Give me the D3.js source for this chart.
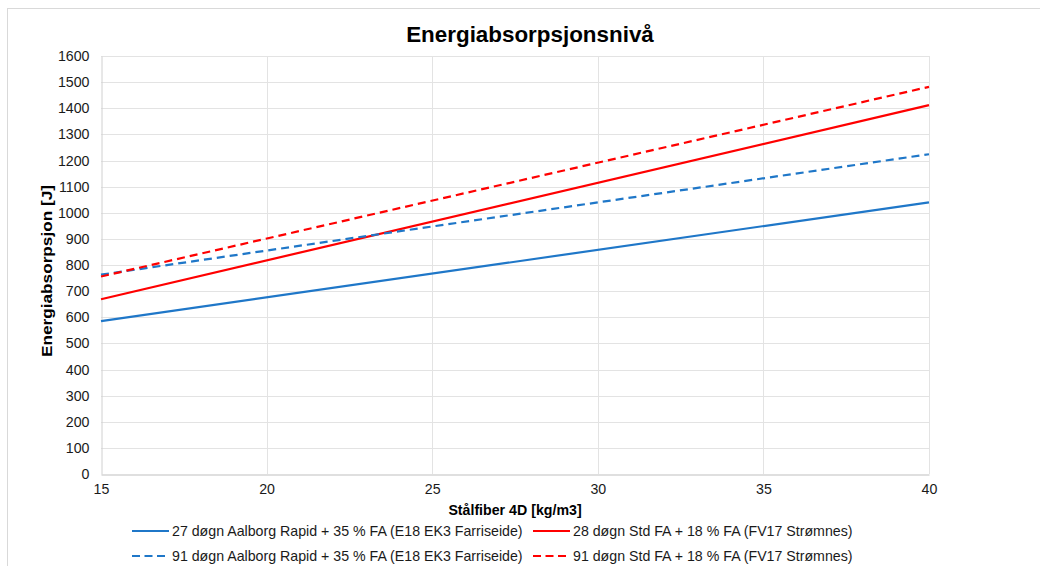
<!DOCTYPE html>
<html>
<head>
<meta charset="utf-8">
<script src="https://cdn.jsdelivr.net/npm/d3@7"></script>
<style>
  body { margin: 0; background: #fff; }
  text { font-family: "Liberation Sans", Arial, sans-serif; }
</style>
</head>
<body>
<script>
// chart data
var xValues = [15, 40];
var seriesNames = [
  "27 døgn Aalborg Rapid + 35 % FA (E18 EK3 Farriseide)",
  "28 døgn Std FA + 18 % FA (FV17 Strømnes)",
  "91 døgn Aalborg Rapid + 35 % FA (E18 EK3 Farriseide)",
  "91 døgn Std FA + 18 % FA (FV17 Strømnes)"
];
var blue27 = [585, 1040];
var red28 = [669, 1412];
var blue91 = [763, 1224];
var red91 = [756, 1482];
var yTicks = [0, 100, 200, 300, 400, 500, 600, 700, 800, 900, 1000, 1100, 1200, 1300, 1400, 1500, 1600];
var xTicks = [15, 20, 25, 30, 35, 40];

var w = 1040, h = 566;
var margin = {top: 56, right: 111, bottom: 92, left: 101};

var svg = d3.select("body").append("svg")
  .attr("width", w)
  .attr("height", h);

// outer chart frame
svg.append("rect")
  .attr("x", 7.5).attr("y", 8.5)
  .attr("width", w).attr("height", h)
  .attr("fill", "#fff")
  .attr("stroke", "#d9d9d9");

var xScale = d3.scaleLinear().domain([15, 40]).range([margin.left, w - margin.right]);
var yScale = d3.scaleLinear().domain([0, 1600]).range([h - margin.bottom, margin.top]);

// grid
svg.append("g").selectAll("line").data(yTicks.slice(1)).enter().append("line")
  .attr("x1", xScale(15)).attr("x2", xScale(40))
  .attr("y1", function(d) { return Math.round(yScale(d)) + 0.5; })
  .attr("y2", function(d) { return Math.round(yScale(d)) + 0.5; })
  .attr("stroke", "#e3e3e3").attr("stroke-width", 1);
svg.append("g").selectAll("line").data(xTicks.slice(1)).enter().append("line")
  .attr("x1", function(d) { return Math.round(xScale(d)) + 0.5; })
  .attr("x2", function(d) { return Math.round(xScale(d)) + 0.5; })
  .attr("y1", yScale(0)).attr("y2", yScale(1600))
  .attr("stroke", "#e3e3e3").attr("stroke-width", 1);

// axes
var xAxis = d3.axisBottom(xScale).tickValues(xTicks).tickSize(0).tickPadding(9)
  .tickFormat(d3.format("d"));
var gx = svg.append("g")
  .attr("transform", "translate(0," + (Math.round(yScale(0)) + 0.5) + ")")
  .call(xAxis);
gx.select(".domain").attr("stroke", "#bfbfbf");
gx.selectAll("text").attr("font-size", 14.2).attr("fill", "#1a1a1a");

var yAxis = d3.axisLeft(yScale).tickValues(yTicks).tickSize(0).tickPadding(12)
  .tickFormat(d3.format("d"));
var gy = svg.append("g")
  .attr("transform", "translate(" + (Math.round(xScale(15)) + 0.5) + ",0)")
  .call(yAxis);
gy.select(".domain").attr("stroke", "#d0d0d0");
gy.selectAll("text").attr("font-size", 14.2).attr("fill", "#1a1a1a");

// series
var line = d3.line()
  .x(function(d, i) { return xScale(xValues[i]); })
  .y(function(d) { return yScale(d); });

var series = [
  {values: blue27, color: "#1f77c8", dash: null, name: seriesNames[0]},
  {values: red28, color: "#ff0000", dash: null, name: seriesNames[1]},
  {values: blue91, color: "#1f77c8", dash: "8,5", name: seriesNames[2]},
  {values: red91, color: "#ff0000", dash: "8,5", name: seriesNames[3]}
];

series.forEach(function(s) {
  svg.append("path")
    .attr("d", line(s.values))
    .attr("fill", "none")
    .attr("stroke", s.color)
    .attr("stroke-width", 2.2)
    .attr("stroke-dasharray", s.dash);
});

// title and axis labels
svg.append("text")
  .attr("x", 530).attr("y", 42)
  .attr("text-anchor", "middle")
  .attr("font-size", 22.4).attr("font-weight", "bold")
  .text("Energiabsorpsjonsnivå");

svg.append("text")
  .attr("x", 515).attr("y", 515)
  .attr("text-anchor", "middle")
  .attr("font-size", 14.2).attr("font-weight", "bold")
  .text("Stålfiber 4D [kg/m3]");

svg.append("text")
  .attr("transform", "translate(52,271) rotate(-90)")
  .attr("text-anchor", "middle")
  .attr("font-size", 14.5).attr("font-weight", "bold")
  .attr("textLength", 172).attr("lengthAdjust", "spacingAndGlyphs")
  .text("Energiabsorpsjon [J]");

// legend
var legendPos = [[132, 531], [533, 531], [132, 556], [533, 556]];
series.forEach(function(s, i) {
  var p = legendPos[i];
  svg.append("line")
    .attr("x1", p[0]).attr("x2", p[0] + 37)
    .attr("y1", p[1]).attr("y2", p[1])
    .attr("stroke", s.color).attr("stroke-width", 2.2)
    .attr("stroke-dasharray", s.dash ? "8,4.5" : null);
  svg.append("text")
    .attr("x", p[0] + 40).attr("y", p[1] + 5)
    .attr("font-size", 14.2).attr("fill", "#1a1a1a")
    .text(s.name);
});
</script>
</body>
</html>
